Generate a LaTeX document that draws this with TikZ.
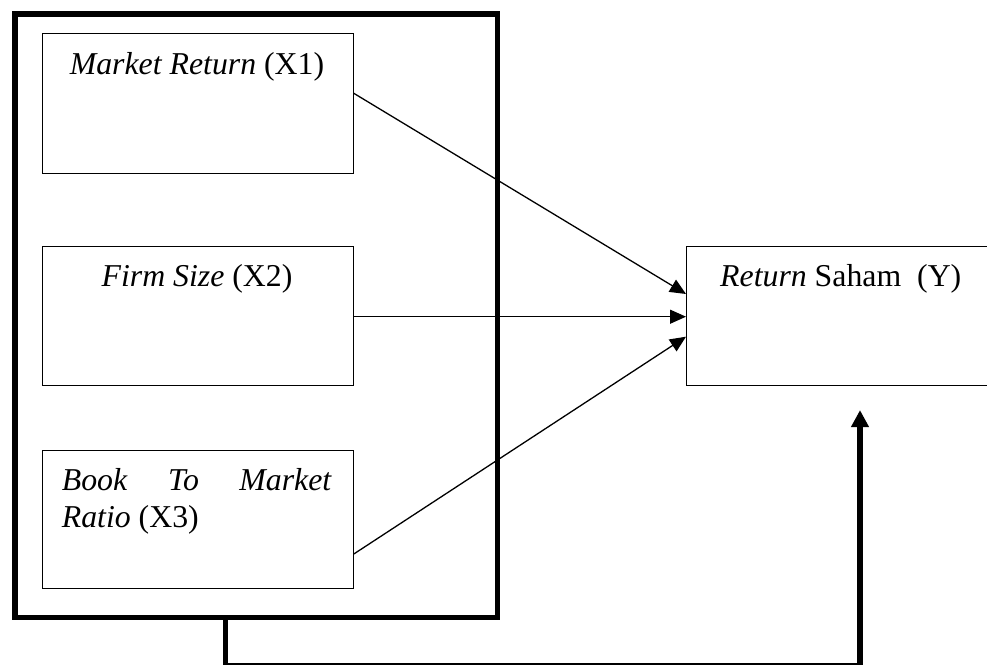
\documentclass[tikz,border=0pt]{standalone}
\usepackage{fontspec}
\setmainfont{Liberation Serif}
\usetikzlibrary{arrows.meta,calc}
\begin{document}
\begin{tikzpicture}[x=1pt,y=-1pt,
  box/.style={draw, line width=1.1pt, inner sep=0pt, anchor=north west},
  heavy/.style={line width=5.7pt},
  link/.style={line width=1.3pt, -{Triangle[width=14pt,length=16pt]}},
  lbl/.style={font=\fontsize{31.8}{37.7}\selectfont, inner sep=0pt}]
\useasboundingbox (0,0) rectangle (987,664);
\clip (0,0) rectangle (987,664);
\node[draw, heavy, inner sep=0pt, anchor=north west, minimum width=482.5pt, minimum height=603.5pt] (outer) at (12,11) {};
\node[box, minimum width=311pt, minimum height=139.7pt] (X1) at (41.7,33) {};
\node[box, minimum width=311pt, minimum height=139.3pt] (X2) at (41.7,245.7) {};
\node[box, minimum width=311pt, minimum height=137.7pt] (X3) at (41.7,450) {};
\node[box, minimum width=400pt, minimum height=139.3pt] (Y) at (686,245.7) {};
\node[lbl, anchor=base] (t1) at (197,74) {\textit{Market Return} (X1)};
\node[lbl, anchor=base] (t2) at (197,286.7) {\textit{Firm Size} (X2)};
\node[lbl, anchor=base west] (t3a) at (61.7,490) {\makebox[270pt][s]{\textit{Book}\hfill\textit{To}\hfill\textit{Market}}};
\node[lbl, anchor=base west] (t3b) at (61.7,527.7) {\textit{Ratio} (X3)};
\node[lbl, anchor=base west] (ty) at (720,286.7) {\textit{Return} Saham\ \ (Y)};
\draw[link] ($(X1.north east)+(0,60.3)$) -- ($(Y.north west)+(0,48.3)$);
\draw[link] ($(X2.north east)+(0,71)$) -- ($(Y.north west)+(0,71)$);
\draw[link] ($(X3.north east)+(0,104)$) -- ($(Y.north west)+(0,91)$);
\draw[heavy, -{Triangle[width=17pt,length=17pt]}] ($(outer.south west)+(213.5,0)$) -- ++(0,45.2) -| ($(Y.south west)+(174,24)$);
\end{tikzpicture}
\end{document}
